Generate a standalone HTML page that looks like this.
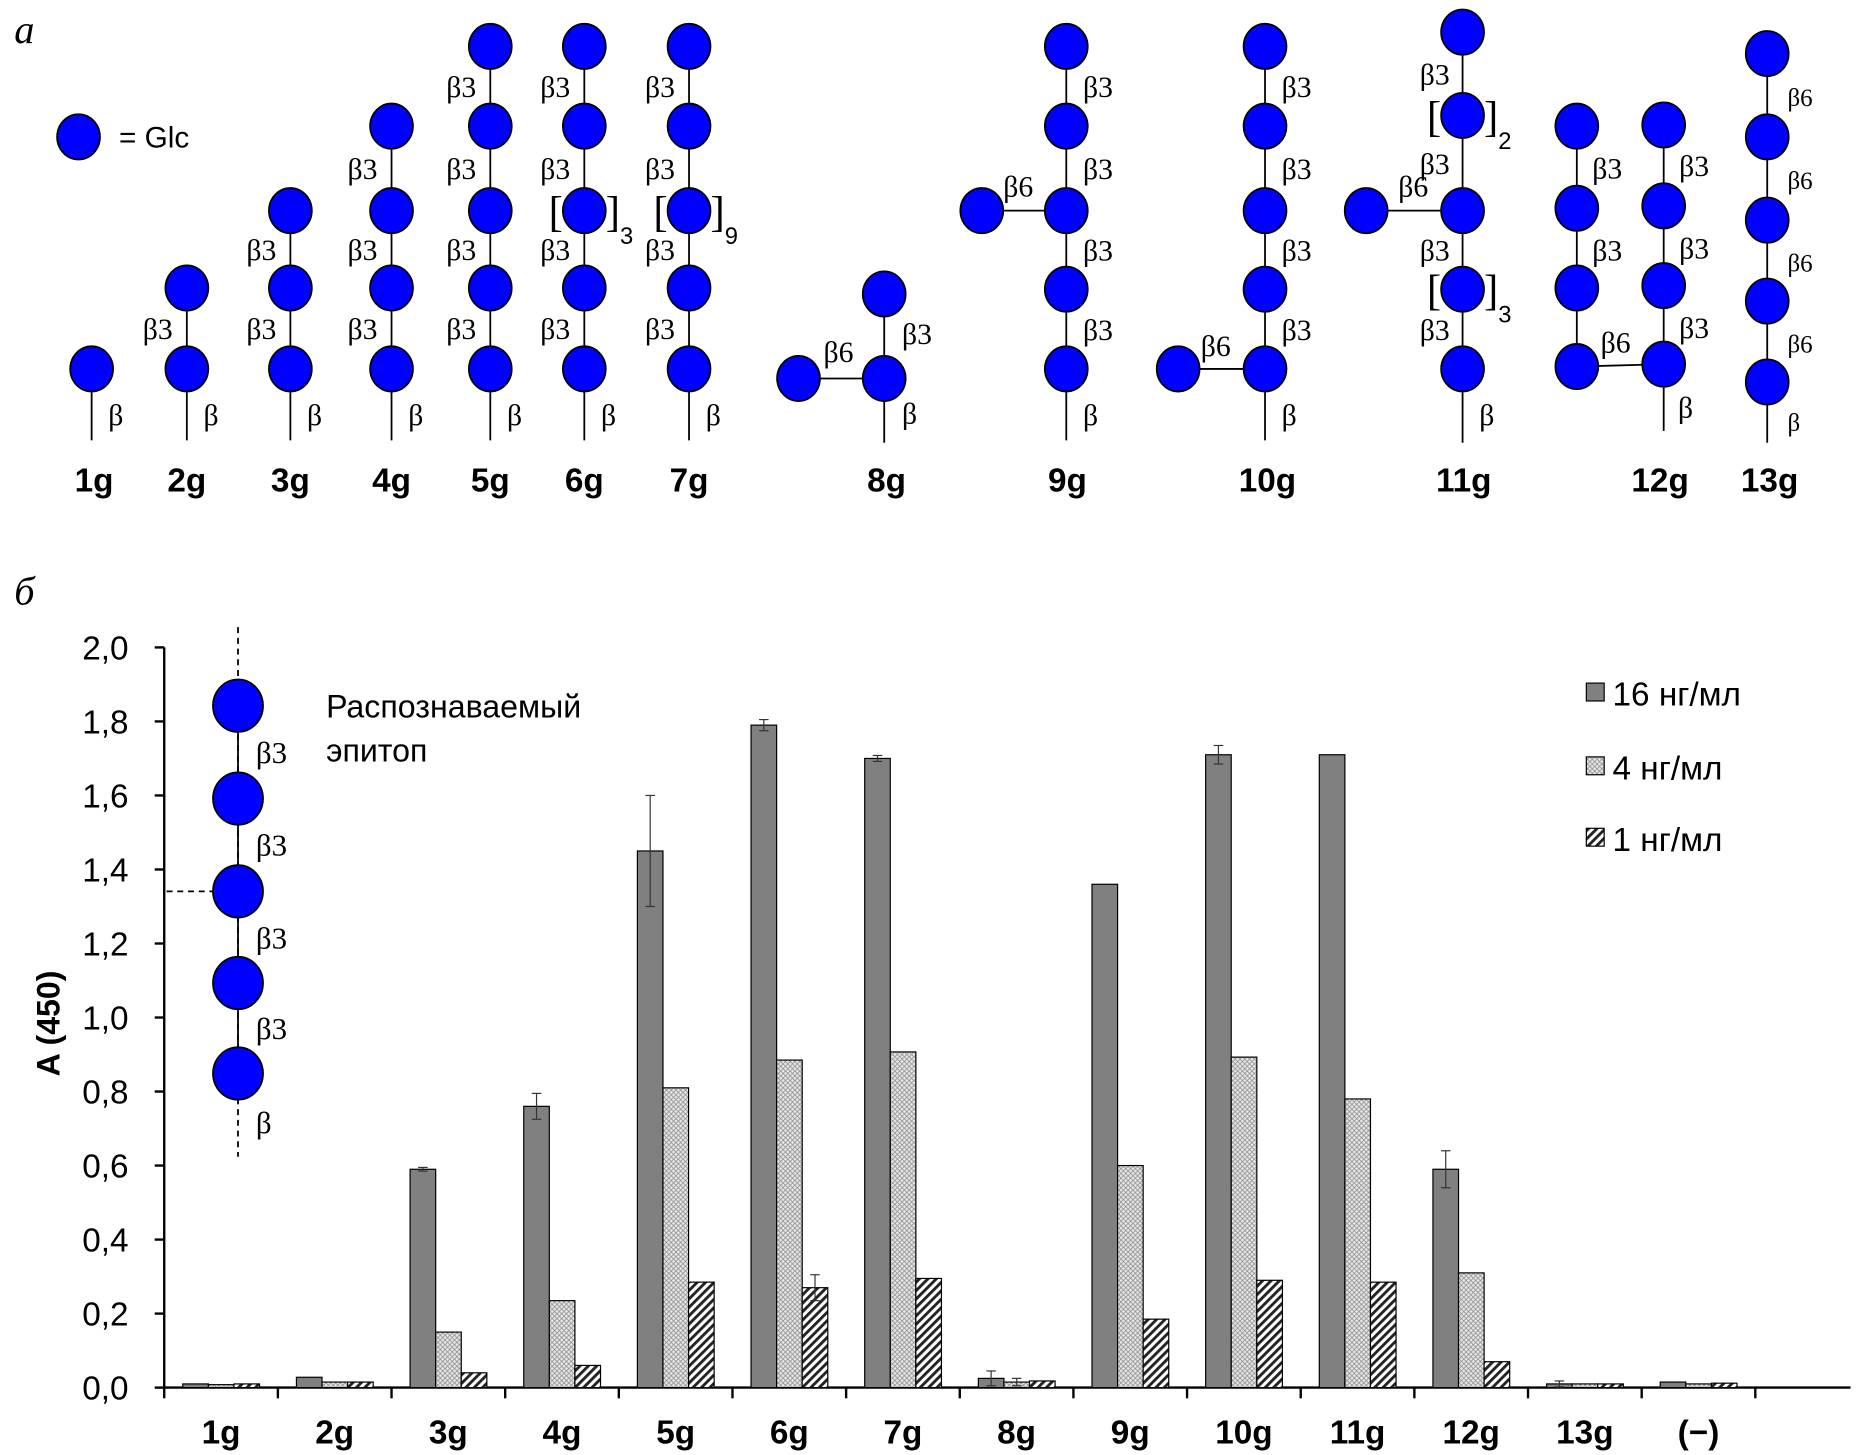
<!DOCTYPE html>
<html><head><meta charset="utf-8"><style>
html,body{margin:0;padding:0;background:#fff;}
svg{display:block;}
text{font-family:"Liberation Sans",sans-serif;}
.ser{font-family:"Liberation Serif",serif;}
</style></head><body>
<svg id="fig" width="1866" height="1455" viewBox="0 0 1568 1222.6" xmlns="http://www.w3.org/2000/svg">
<defs>
<pattern id="check" width="4" height="4" patternUnits="userSpaceOnUse"><rect width="4" height="4" fill="#e6e6e6"/><path d="M0,0L4,4M4,0L0,4" stroke="#888" stroke-width="0.6"/></pattern>
<pattern id="hatch" width="5" height="5" patternUnits="userSpaceOnUse" patternTransform="rotate(45)"><rect width="5" height="5" fill="#fff"/><rect width="2.4" height="5" fill="#222"/></pattern>
</defs>
<g id="topPanel"></g>
<g id="chart"></g>
</svg>
<script>
const NS="http://www.w3.org/2000/svg";
function mk(p,tag,attrs,txt){const e=document.createElementNS(NS,tag);for(const k in attrs)e.setAttribute(k,attrs[k]);if(txt!==undefined)e.textContent=txt;p.appendChild(e);return e;}
const topG=document.getElementById('topPanel');
let pa=mk(topG,'text',{x:12,y:36,'font-size':34,'font-style':'italic',class:'ser'},'а');


function circ(x,y){const c=mk(topG,'ellipse',{cx:x,cy:y,rx:18,ry:19,fill:'#0000ff',stroke:'#000','stroke-width':1.5});

}
function line(x1,y1,x2,y2,dash){mk(topG,'line',{x1,y1,x2,y2,stroke:'#000','stroke-width':1.5,'stroke-dasharray':dash||'none'});}
function lbl(x,y,s,fs){mk(topG,'text',{x,y,'font-size':fs||25,class:'ser'},s);}
function chain(x,ys,links,tailEnd,lx){
  line(x,ys[0],x,tailEnd);
  ys.forEach(y=>circ(x,y));
  for(let i=0;i<ys.length-1;i++) if(links[i]) lbl(x+(lx||-37),(ys[i]+ys[i+1])/2+9,links[i]);
  lbl(x+(lx!==undefined&&lx>0?lx:14),ys[ys.length-1]+47,'β');
}
function nm(x,s){const e=mk(topG,'text',{x,y:413,'font-size':28,'font-weight':'bold','text-anchor':'middle'},s);

}
circ(66,115); mk(topG,'text',{x:100,y:124,'font-size':25},'= Glc');
chain(77,[310],[],370); nm(79,'1g');
chain(157,[242,310],['β3'],370); nm(157,'2g');
chain(244,[177,242,310],['β3','β3'],370); nm(244,'3g');
chain(329,[106,177,242,310],['β3','β3','β3'],370); nm(329,'4g');
chain(412,[39,106,177,242,310],['β3','β3','β3','β3'],370); nm(412,'5g');
chain(491,[39,106,177,242,310],['β3','β3','β3','β3'],370); nm(491,'6g');
chain(579,[39,106,177,242,310],['β3','β3','β3','β3'],370); nm(579,'7g');
function bracket(x,y,sub){lbl(x-30,y+13,'[',36);lbl(x+18,y+13,']',36);mk(topG,'text',{x:x+30,y:y+28,'font-size':20},sub);}
bracket(491,177,'3'); bracket(579,177,'9');
line(671,318,743,318); line(743,247,743,372); circ(743,247); circ(743,318); circ(671,318);
lbl(692,304,'β6'); lbl(758,289,'β3'); lbl(758,356,'β'); nm(745,'8g');
line(825,177,896,177); chain(896,[39,106,177,243,310],['β3','β3','β3','β3'],370,14); circ(825,177); lbl(843,165,'β6'); nm(897,'9g');
line(990,310,1063,310); chain(1063,[39,106,177,243,310],['β3','β3','β3','β3'],370,14); circ(990,310); lbl(1009,299,'β6'); nm(1065,'10g');
line(1148,177,1229,177); chain(1229,[27,97,177,243,310],['β3','β3','β3','β3'],372,-36);
circ(1148,177); lbl(1175,165,'β6'); bracket(1229,97,'2'); bracket(1229,243,'3'); nm(1230,'11g');
line(1325,106,1325,308); line(1325,308,1398,306); line(1398,105,1398,362);
[106,175,242,308].forEach(y=>circ(1325,y)); [105,173,240,306].forEach(y=>circ(1398,y));
lbl(1338,150,'β3');lbl(1338,219,'β3');lbl(1411,148,'β3');lbl(1411,217,'β3');lbl(1411,284,'β3');lbl(1345,296,'β6');lbl(1410,351,'β');
nm(1395,'12g');
line(1485,45,1485,372);[45,115,185,253,321].forEach(y=>circ(1485,y));
[89,159,228,296].forEach(y=>lbl(1502,y,'β6',21)); lbl(1502,362,'β',21); nm(1487,'13g');

const categories=['1g','2g','3g','4g','5g','6g','7g','8g','9g','10g','11g','12g','13g','(−)'];
const s16=[0.010,0.028,0.59,0.76,1.45,1.79,1.70,0.025,1.36,1.71,1.71,0.59,0.010,0.015];
const s4=[0.008,0.015,0.15,0.235,0.81,0.885,0.907,0.015,0.60,0.893,0.78,0.31,0.010,0.010];
const s1=[0.010,0.015,0.04,0.06,0.285,0.27,0.295,0.018,0.185,0.29,0.285,0.07,0.010,0.012];
const e16=[0,0,0.005,0.035,0.15,0.015,0.008,0.02,0,0.025,0,0.05,0.008,0];
const e4=[0,0,0,0,0,0,0,0.01,0,0,0,0,0,0];
const e1=[0,0,0,0,0,0.035,0,0,0,0,0,0,0,0];
const yTicks=['0,0','0,2','0,4','0,6','0,8','1,0','1,2','1,4','1,6','1,8','2,0'];
const seriesNames=['16 нг/мл','4 нг/мл','1 нг/мл'];

const ch=document.getElementById('chart');
const X0=138,CW=95.5,Y0=1166,YT=544,YMAX=2.0;
const yS=v=>Y0-(v/YMAX)*(Y0-YT);
const xS=i=>X0+i*CW;
function cm(tag,attrs,txt){return mk(ch,tag,attrs,txt);}
let pb=cm('text',{x:12,y:508,'font-size':34,'font-style':'italic',class:'ser'},'б');


const ins=document.createElementNS(NS,'g');


ch.appendChild(ins);
mk(ins,'line',{x1:200,y1:527,x2:200,y2:972,stroke:'#000','stroke-width':1.5,'stroke-dasharray':'5,4'});
mk(ins,'line',{x1:200,y1:580,x2:200,y2:915,stroke:'#000','stroke-width':1.5});
mk(ins,'line',{x1:140,y1:749,x2:182,y2:749,stroke:'#000','stroke-width':1.5,'stroke-dasharray':'5,4'});
[593,671,749,826,902].forEach(y=>mk(ins,'ellipse',{cx:200,cy:y,rx:21,ry:22,fill:'#0000ff',stroke:'#000','stroke-width':1.5}));
[641,719,797,873].forEach(y=>mk(ins,'text',{x:215,y:y,'font-size':26,class:'ser'},'β3'));
mk(ins,'text',{x:215,y:952,'font-size':26,class:'ser'},'β');
mk(ins,'text',{x:274,y:603,'font-size':27},'Распознаваемый');
mk(ins,'text',{x:274,y:640,'font-size':27},'эпитоп');
let ya=cm('line',{x1:X0,y1:YT,x2:X0,y2:Y0,stroke:'#000','stroke-width':2});


let xa=cm('line',{x1:X0,y1:Y0,x2:1555,y2:Y0,stroke:'#000','stroke-width':2});


yTicks.forEach((s,i)=>{const v=i*0.2,y=yS(v);
 cm('line',{x1:X0-8,y1:y,x2:X0,y2:y,stroke:'#000','stroke-width':2});
 const tl=cm('text',{x:X0-30,y:y+10,'font-size':28,'text-anchor':'end'},s);
 
 });
let yt=cm('text',{x:0,y:0,'font-size':27,'font-weight':'bold','text-anchor':'middle',transform:'translate(50,860) rotate(-90)'},'A (450)');


for(let i=0;i<=categories.length;i++){cm('line',{x1:xS(i),y1:Y0,x2:xS(i),y2:Y0+9,stroke:'#000','stroke-width':2});}
categories.forEach((c,i)=>{const tl=cm('text',{x:xS(i)+CW/2,y:1213,'font-size':28,'font-weight':'bold','text-anchor':'middle'},c);
 
 });
const fills=['#808080','url(#check)','url(#hatch)'];
const sers=[s16,s4,s1],errs=[e16,e4,e1];
const BW=21.5,OFF=15.6;
categories.forEach((c,i)=>{sers.forEach((s,k)=>{
 const x=xS(i)+OFF+k*BW,v=s[i];
 const r=cm('rect',{x:x,y:yS(v),width:BW,height:Y0-yS(v),fill:fills[k],stroke:'#000','stroke-width':1});
 
 
 const e=errs[k][i];
 if(e>0){const cx=x+BW/2;
  cm('line',{x1:cx,y1:yS(v+e),x2:cx,y2:yS(v-e),stroke:'#333','stroke-width':1});
  cm('line',{x1:cx-4,y1:yS(v+e),x2:cx+4,y2:yS(v+e),stroke:'#333','stroke-width':1});
  cm('line',{x1:cx-4,y1:yS(v-e),x2:cx+4,y2:yS(v-e),stroke:'#333','stroke-width':1});}
});});
seriesNames.forEach((n,k)=>{const y=[593,655,715][k];
 const g=document.createElementNS(NS,'g');
 ch.appendChild(g);
 
 
 mk(g,'rect',{x:1333,y:y-19,width:15,height:15,fill:fills[k],stroke:'#000','stroke-width':1});
 mk(g,'text',{x:1355,y:y,'font-size':28},n);});
</script>
</body></html>
